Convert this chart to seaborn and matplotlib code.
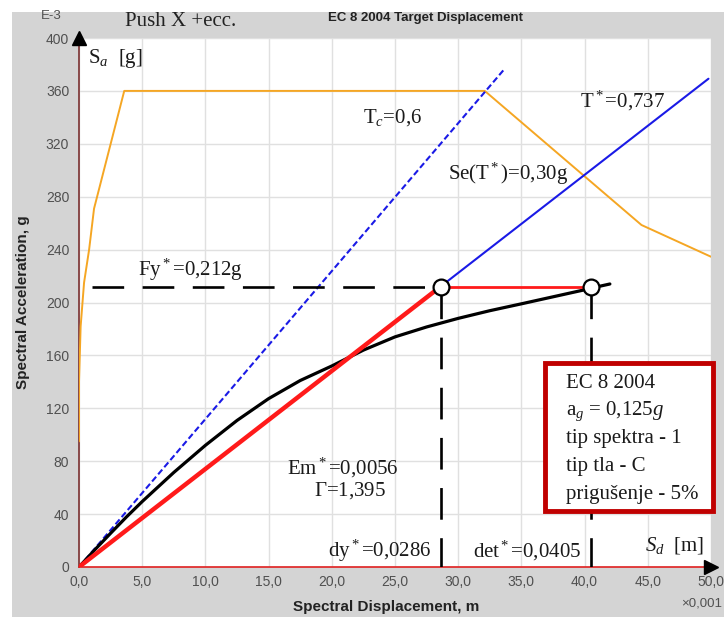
import numpy as np
import pandas as pd
import matplotlib
matplotlib.use("Agg")
import matplotlib.pyplot as plt
from matplotlib.patches import Rectangle
from matplotlib.ticker import FixedLocator, FixedFormatter
import seaborn as sns

# ---- data (Sd in 1e-3 m, Sa in 1e-3 g) ----
spectrum_sd = [0.0, 0.0, 0.13, 0.4, 0.8, 1.19, 3.58, 32.1, 44.5, 50.0]
spectrum_sa = [95, 140, 182, 215, 240, 271, 360, 360, 258.6, 234.6]

tc_sd = [0.0, 33.7]
tc_sa = [0.0, 377.0]

tstar_sd = [28.6, 49.8]
tstar_sa = [212.0, 369.2]

capacity_sd = [0.0, 1.25, 2.5, 3.75, 5.0, 7.5, 10.0, 12.5, 15.0, 17.5, 20.0,
               22.5, 25.0, 27.5, 30.0, 32.5, 35.0, 37.5, 40.0, 41.2, 42.0]
capacity_sa = [0.0, 13.0, 25.5, 37.8, 49.5, 71.5, 92.0, 110.8, 127.3, 141.0,
               152.0, 164.0, 174.0, 181.5, 188.0, 193.8, 199.0, 204.3, 209.6,
               212.3, 214.0]

bilinear_sd = [0.0, 28.6, 40.5]
bilinear_sa = [0.0, 212.0, 212.0]

fy_star = 212.0
dy_star = 28.6
det_star = 40.5
fy_line_start = 1.0

x_ticks = [0, 5, 10, 15, 20, 25, 30, 35, 40, 45, 50]
x_tick_labels = ["0,0", "5,0", "10,0", "15,0", "20,0", "25,0", "30,0",
                 "35,0", "40,0", "45,0", "50,0"]
y_ticks = [0, 40, 80, 120, 160, 200, 240, 280, 320, 360, 400]
y_tick_labels = [str(v) for v in y_ticks]

info_lines = ["EC 8 2004", "a$_g$ = 0,125$g$", "tip spektra - 1",
              "tip tla - C", "prigušenje - 5%"]

# ---- style ----
sns.set_style("white")
plt.rcParams["font.family"] = ["Liberation Sans", "DejaVu Sans"]
plt.rcParams["mathtext.fontset"] = "custom"
plt.rcParams["mathtext.rm"] = "Liberation Serif"
plt.rcParams["mathtext.it"] = "Liberation Serif:italic"
plt.rcParams["mathtext.bf"] = "Liberation Serif:bold"

W, H = 724, 617
fig = plt.figure(figsize=(W / 100, H / 100), dpi=100, facecolor="white")
fig.patches.append(Rectangle((12 / W, 0), 1 - 12 / W, (H - 12) / H,
                             transform=fig.transFigure, facecolor="#d4d4d4",
                             edgecolor="none", zorder=-10))

ax = fig.add_axes([79 / W, (H - 567) / H, (711 - 79) / W, (567 - 38) / H])
ax.set_facecolor("white")
ax.set_xlim(0, 50)
ax.set_ylim(0, 400)

ax.xaxis.set_major_locator(FixedLocator(x_ticks))
ax.xaxis.set_major_formatter(FixedFormatter(x_tick_labels))
ax.yaxis.set_major_locator(FixedLocator(y_ticks))
ax.yaxis.set_major_formatter(FixedFormatter(y_tick_labels))
ax.grid(True, color="#e0e0e0", linewidth=1.0)
ax.set_axisbelow(True)
ax.tick_params(axis="both", which="major", labelsize=10, colors="#505050",
               length=4, width=1, direction="out", pad=3)
ax.tick_params(axis="x", length=0, pad=6)

for s in ["top", "right"]:
    ax.spines[s].set_visible(False)
ax.spines["left"].set_color("#7a3030")
ax.spines["left"].set_linewidth(1.2)
ax.spines["bottom"].set_color("#e02020")
ax.spines["bottom"].set_linewidth(1.2)

# ---- curves ----
sns.lineplot(x=spectrum_sd, y=spectrum_sa, sort=False, estimator=None,
             color="#f5a623", linewidth=1.4, ax=ax, zorder=3)
sns.lineplot(x=tc_sd, y=tc_sa, sort=False, estimator=None, color="#1a1ae6",
             linewidth=1.5, linestyle=(0, (3, 1.5)), ax=ax, zorder=3)
sns.lineplot(x=tstar_sd, y=tstar_sa, sort=False, estimator=None,
             color="#1a1ae6", linewidth=1.5, ax=ax, zorder=3)

dash = (0, (12, 7))
ax.plot([fy_line_start, dy_star], [fy_star, fy_star], color="black",
        linewidth=1.9, linestyle=dash, zorder=4)
ax.plot([dy_star, dy_star], [fy_star, 0], color="black", linewidth=1.9,
        linestyle=dash, zorder=4)
ax.plot([det_star, det_star], [fy_star, 0], color="black", linewidth=1.9,
        linestyle=dash, zorder=4)

sns.lineplot(x=capacity_sd, y=capacity_sa, sort=False, estimator=None,
             color="black", linewidth=2.3, ax=ax, zorder=5)
sns.lineplot(x=bilinear_sd[:2], y=bilinear_sa[:2], sort=False, estimator=None,
             color="#ff1a1a", linewidth=3.2, ax=ax, zorder=6)
sns.lineplot(x=bilinear_sd[1:], y=bilinear_sa[1:], sort=False, estimator=None,
             color="#ff1a1a", linewidth=2.0, ax=ax, zorder=6)
sns.scatterplot(x=[dy_star, det_star], y=[fy_star, fy_star], s=130,
                facecolor="white", edgecolor="black", linewidth=1.6,
                ax=ax, zorder=7, clip_on=False)

# axis arrowheads
ax.plot([0], [400], marker="^", color="black", markersize=10, clip_on=False,
        zorder=8)
ax.plot([50], [0], marker=">", color="black", markersize=10, clip_on=False,
        zorder=8)

ax.set_xlabel("")
ax.set_ylabel("")

# ---- labels ----
def px(x, y):
    return x / W, 1 - y / H

serif = dict(family="Liberation Serif", fontsize=15, color="#1a1a1a")

fig.text(*px(386, 607), "Spectral Displacement, m", ha="center", va="center",
         fontsize=11, fontweight="bold", color="#222222")
fig.text(*px(23, 302), "Spectral Acceleration, g", ha="center", va="center",
         rotation=90, fontsize=11, fontweight="bold", color="#222222")
fig.text(*px(425, 18), "EC 8 2004 Target Displacement", ha="center",
         va="center", fontsize=9.5, fontweight="bold", color="#222222")
fig.text(*px(125, 22), "Push X +ecc.", ha="left", va="center",
         family="Liberation Serif", fontsize=15, color="#222222")
fig.text(*px(62, 16), "E-3", ha="right", va="center", fontsize=9.5,
         color="#505050")
fig.text(*px(722, 603), "×0,001", ha="right", va="center", fontsize=9.5,
         color="#505050")

fig.text(*px(88, 58), r"S$_{\mathit{a}}$  [g]", ha="left", va="center", **serif)
fig.text(*px(645, 546), r"$S_d$  [m]", ha="left", va="center", **serif)
fig.text(*px(363, 118), r"T$_c$=0,6", ha="left", va="center", **serif)
fig.text(*px(580, 101), r"T$^*$=0,737", ha="left", va="center", **serif)
fig.text(*px(448, 174), r"Se(T$^*$)=0,30g", ha="left", va="center", **serif)
fig.text(*px(138, 270), r"Fy$^*$=0,212g", ha="left", va="center", **serif)
fig.text(*px(343, 468), r"Em$^*$=0,0056", ha="center", va="center", **serif)
fig.text(*px(350, 491), r"$\Gamma$=1,395", ha="center", va="center", **serif)
fig.text(*px(432, 551), r"dy$^*$=0,0286", ha="right", va="center", **serif)
fig.text(*px(473, 551), r"det$^*$=0,0405", ha="left", va="center", **serif)

# info box
x0, y0, x1, y1 = 545, 363, 713, 511
fig.patches.append(Rectangle(px(x0, y1), (x1 - x0) / W, (y1 - y0) / H,
                             transform=fig.transFigure, facecolor="white",
                             edgecolor="#c00000", linewidth=3.5, zorder=20))
for i, line in enumerate(info_lines):
    fig.text(*px(566, 383 + i * 28), line, ha="left", va="center", zorder=21,
             **serif)

fig.savefig("out.png", dpi=100, facecolor="white")
